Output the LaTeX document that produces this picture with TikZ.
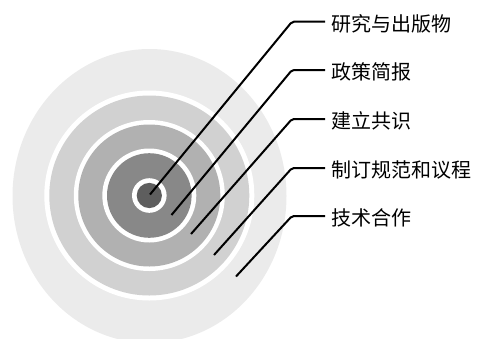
\documentclass[tikz,border=0pt]{standalone}
\usepackage{fontspec}
\newfontfamily\cjk{Noto Sans CJK SC}
\definecolor{ringA}{HTML}{EBEBEB}
\definecolor{ringB}{HTML}{D1D1D1}
\definecolor{ringC}{HTML}{B1B1B1}
\definecolor{ringD}{HTML}{888888}
\definecolor{ringE}{HTML}{5E5E5E}
\tikzset{
  lbl/.style={anchor=west, inner sep=0pt, font=\cjk\fontsize{20}{24}\selectfont},
  lead/.style={draw=black, line width=2pt, rounded corners=2pt, shorten >=6pt},
}
\begin{document}
\begin{tikzpicture}[x=1pt, y=-1pt]
\useasboundingbox (0,0) rectangle (484,338);
% rings
\fill[ringA] (149.5,196) ellipse [x radius=137, y radius=147];
\fill[white] (149.3,195.5) circle[radius=105];
\fill[ringB] (149.3,195.5) circle[radius=100];
\fill[white] (149.3,195.5) circle[radius=75.5];
\fill[ringC] (149.3,195.5) circle[radius=71];
\fill[white] (149.3,195.5) circle[radius=47];
\fill[ringD] (149.3,195.5) circle[radius=42.3];
\fill[white] (149.3,195.5) circle[radius=17.3];
\fill[ringE] (149.3,195.5) circle[radius=12.6];
% end points
\coordinate (e1) at (150,194.5);
\coordinate (e2) at (171.5,215);
\coordinate (e3) at (191,234);
\coordinate (e4) at (214,255);
\coordinate (e5) at (236,276.5);
% knees
\coordinate (k1) at (292,21.7);
\coordinate (k2) at (292,70);
\coordinate (k3) at (292,119);
\coordinate (k4) at (292,168);
\coordinate (k5) at (292,216);
% labels
\node[lbl] (t1) at (331,23.5) {研究与出版物};
\node[lbl] (t2) at (331,72) {政策简报};
\node[lbl] (t3) at (331,121) {建立共识};
\node[lbl] (t4) at (331,170) {制订规范和议程};
\node[lbl] (t5) at (331,218) {技术合作};
% leaders
\draw[lead] (e1) -- (k1) -- (k1 -| t1.west);
\draw[lead] (e2) -- (k2) -- (k2 -| t2.west);
\draw[lead] (e3) -- (k3) -- (k3 -| t3.west);
\draw[lead] (e4) -- (k4) -- (k4 -| t4.west);
\draw[lead] (e5) -- (k5) -- (k5 -| t5.west);
\end{tikzpicture}
\end{document}
